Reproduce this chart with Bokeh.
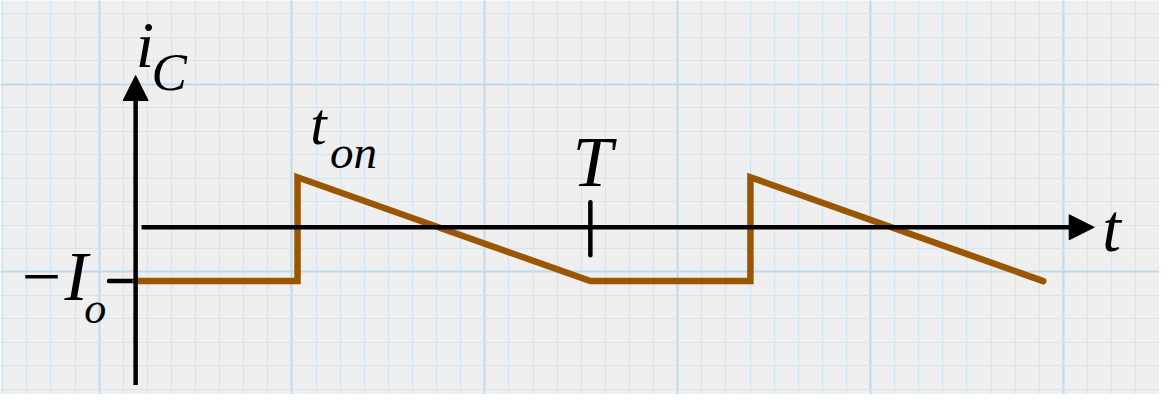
import numpy as np
from bokeh.plotting import figure
from bokeh.models import Range1d, Grid, FixedTicker, Arrow, NormalHead, Label
from bokeh.embed import file_html
from bokeh.resources import INLINE

# ---- data (time in units of T, current in units of Io) ----
t_wave = [0.0, 0.356, 0.356, 1.0, 1.352, 1.352, 1.996]
i_wave = [-1.0, -1.0, 0.93, -1.0, -1.0, 0.93, -1.0]
t_period = 1.0
i_low = -1.0
axis_t_end = 2.108
axis_i_top = 2.82
axis_i_bottom = -2.93

# ---- layout constants ----
W, H = 1159, 394
REF_W, REF_H = 1175, 410
PX_T = 461.0      # reference px per unit T
PX_I = 56.0       # reference px per unit Io
X0, Y0 = 137.0, 236.0   # reference px of origin

def dx(px):
    return (px - X0) / PX_T

def dy(py):
    return (Y0 - py) / PX_I

p = figure(width=W, height=H, x_range=Range1d(dx(0), dx(REF_W)), y_range=Range1d(dy(REF_H), dy(0)),
           x_axis_type=None, y_axis_type=None, min_border=0, toolbar_location=None,
           output_backend="svg", background_fill_color="#efefef", border_fill_color="#efefef",
           outline_line_color=None)

# graph-paper grid
cell = 24.44
xs_minor = [dx(100 + cell * k) for k in range(-8, 48)]
xs_major = [dx(100 + cell * 8 * k) for k in range(-1, 7)]
ys_minor = [dy(87 + cell * k) for k in range(-8, 20)]
ys_major = [dy(87 + cell * 8 * k) for k in range(-1, 3)]
for dim, maj, mnr in ((0, xs_major, xs_minor), (1, ys_major, ys_minor)):
    p.add_layout(Grid(dimension=dim, ticker=FixedTicker(ticks=maj, minor_ticks=mnr),
                      grid_line_color="#c0daec", grid_line_width=2,
                      minor_grid_line_color="#d2e5f2", minor_grid_line_width=1.2))

# axes with arrows
head = dict(size=25, fill_color="black", line_color="black", line_width=1)
p.add_layout(Arrow(x_start=0, y_start=axis_i_bottom, x_end=0, y_end=axis_i_top,
                   line_color="black", line_width=4.5, end=NormalHead(**head)))
p.add_layout(Arrow(x_start=dx(143), y_start=0, x_end=axis_t_end, y_end=0,
                   line_color="black", line_width=4.5, end=NormalHead(**head)))

# ticks
p.segment(x0=[dx(110), t_period], y0=[i_low, dy(210)], x1=[0, t_period], y1=[i_low, dy(265)],
          line_color="black", line_width=4.5, line_cap="round")

# waveform
p.line(t_wave, i_wave, line_color="#9a5600", line_width=6.5, line_join="miter", line_cap="round")

# labels
FONT = "Liberation Serif"
K = 0.33

def lab(text, px, py, size):
    p.add_layout(Label(x=dx(px), y=dy(py - K * size), text=text,
                       text_font=FONT, text_font_style="italic", text_font_size=f"{size}px",
                       text_color="black", text_baseline="alphabetic", text_align="left"))

lab("i", 137, 68, 66)
lab("C", 153, 92, 53)
lab("t", 1117, 259, 67)
lab("t", 314, 148, 59)
lab("on", 334, 173, 47)
lab("T", 580, 192, 72)
lab("\u2212I", 17, 310, 70)
lab("o", 85, 335, 44)

open("out.html", "w").write(file_html(p, INLINE))
